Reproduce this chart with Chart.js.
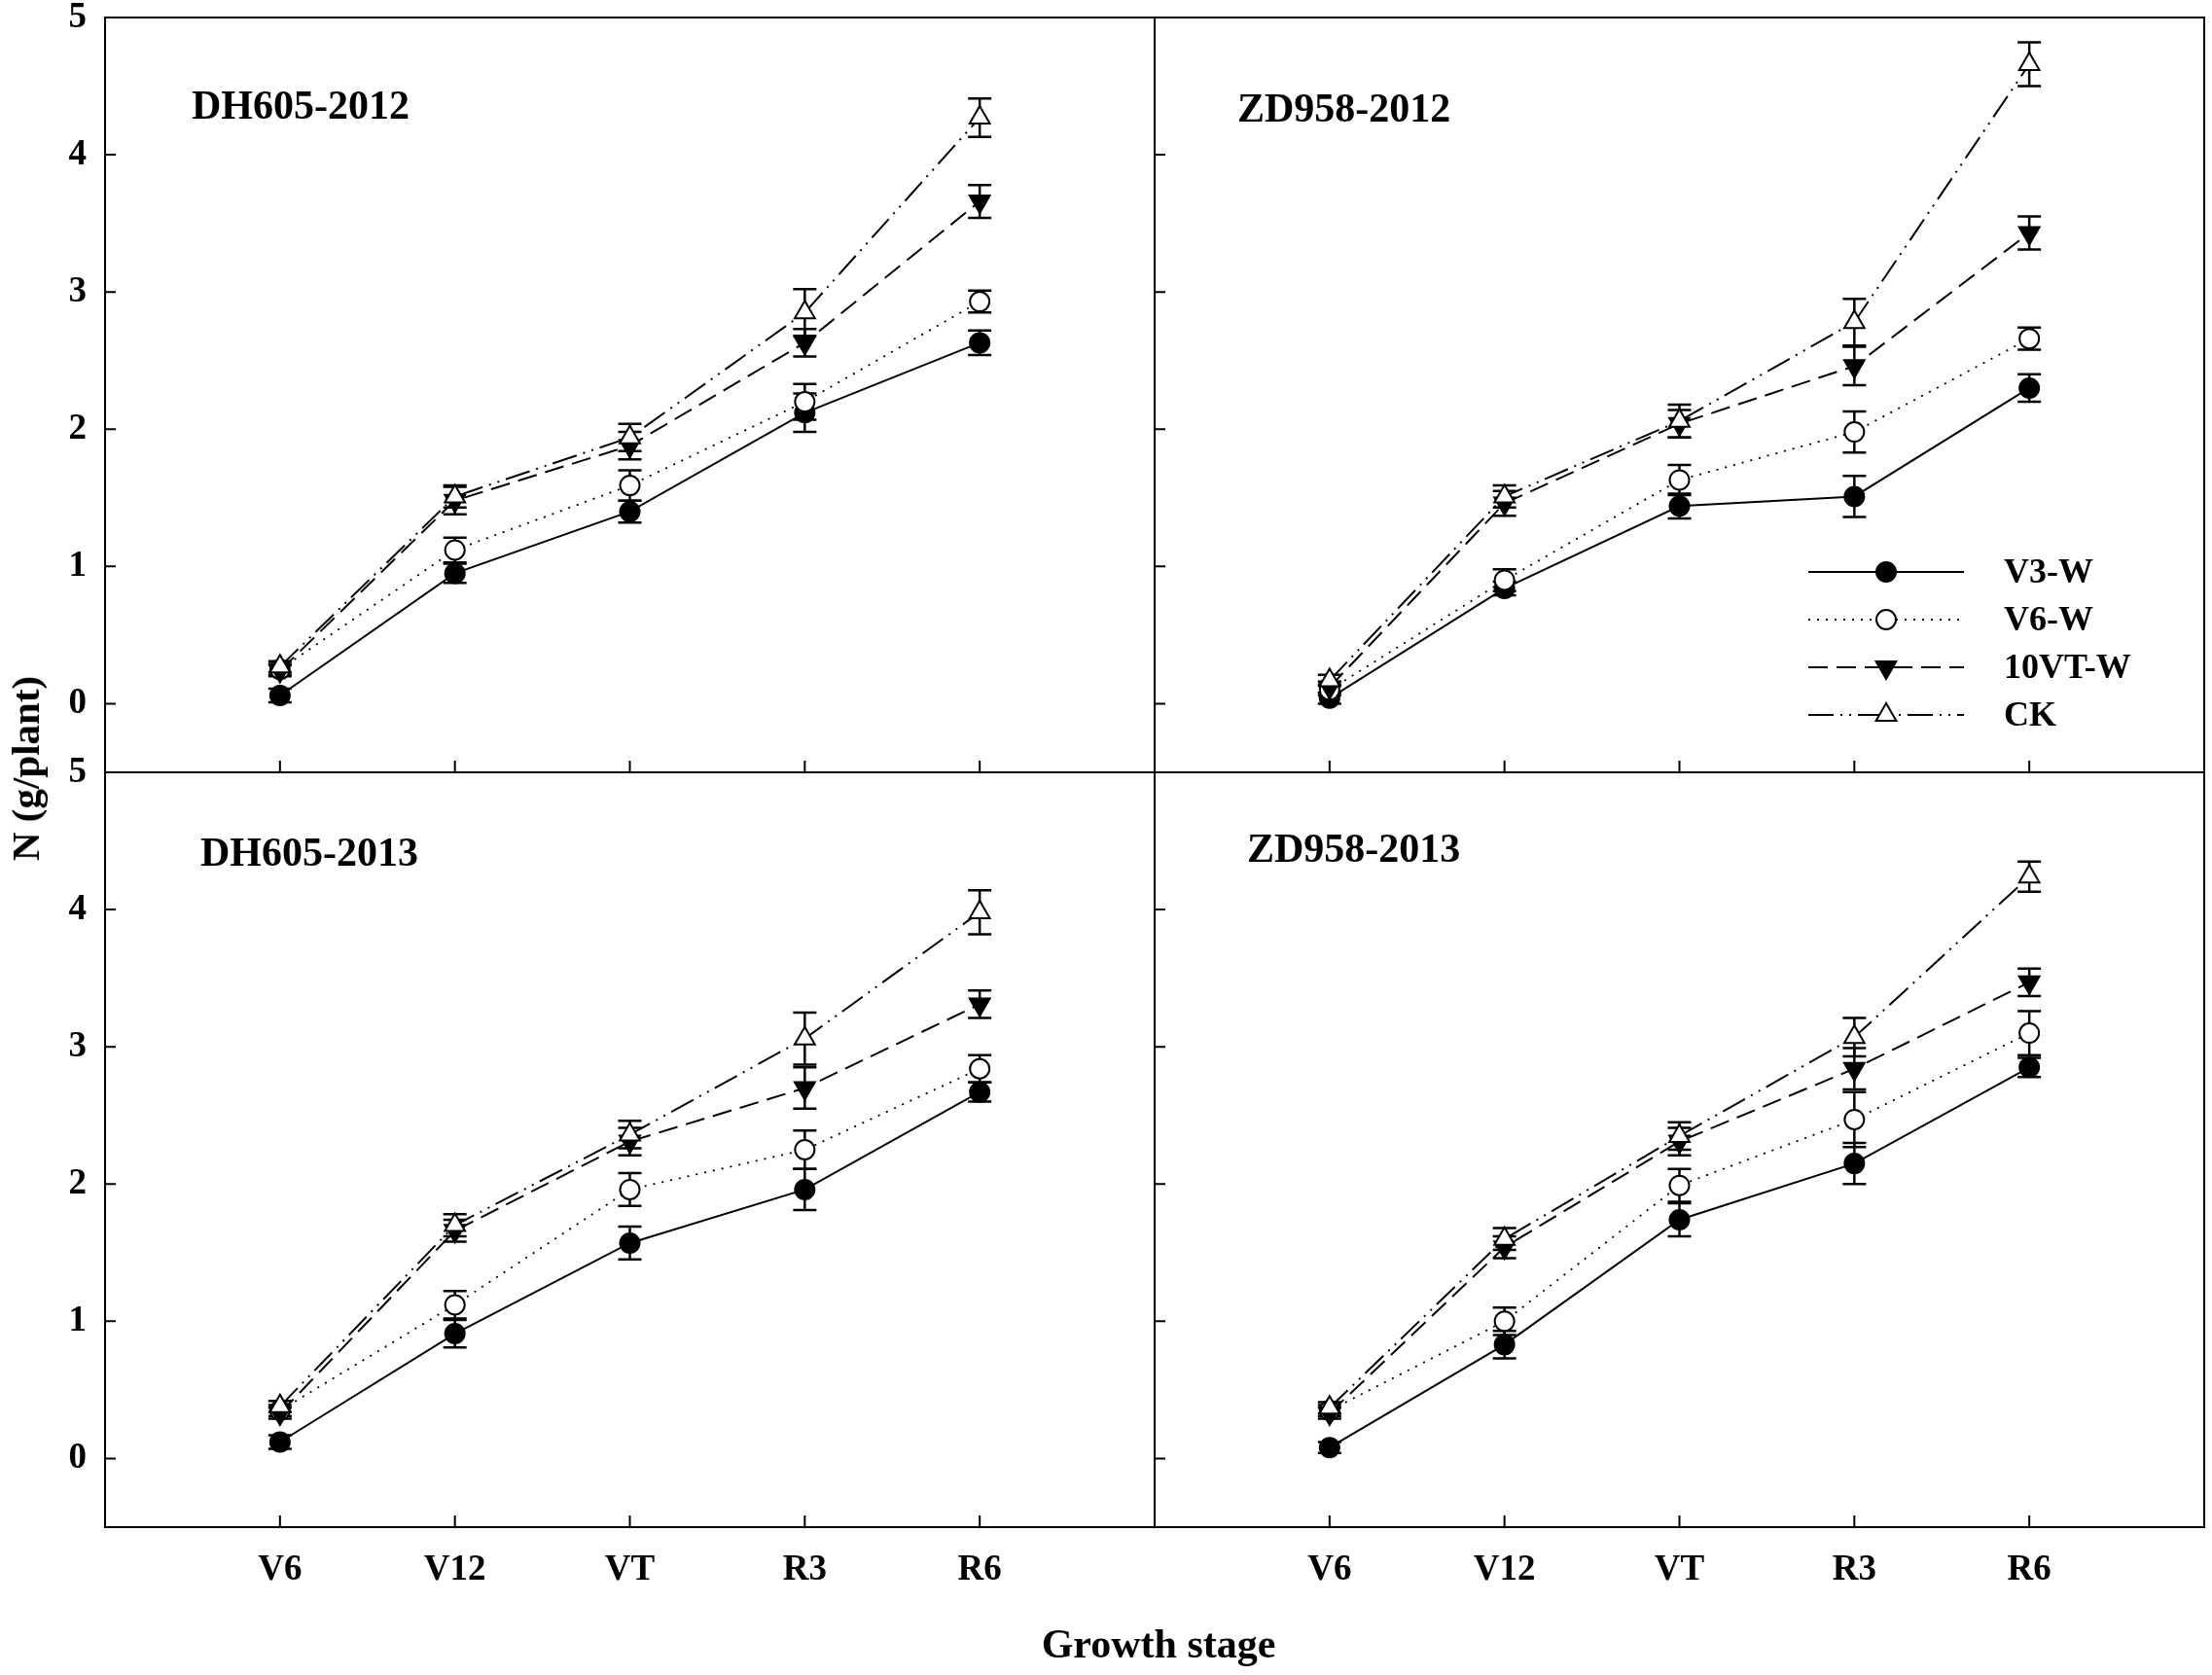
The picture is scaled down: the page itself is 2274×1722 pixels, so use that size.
<!DOCTYPE html>
<html>
<head>
<meta charset="utf-8">
<script src="https://cdn.jsdelivr.net/npm/chart.js@4/dist/chart.umd.min.js"></script>
<style>
  html, body { margin: 0; padding: 0; background: #fff; }
  #wrap { position: relative; width: 2274px; height: 1722px; overflow: hidden; }
  canvas { position: absolute; }
  .lab { position: absolute; color: #000; white-space: nowrap; font-family: 'Liberation Serif', 'Times New Roman', serif; font-weight: bold; }
  #xt { left: 1191px; top: 1690px; font-size: 42px; transform: translate(-50%, -50%); }
  #yt { left: 26px; top: 790px; font-size: 41px; transform: translate(-50%, -50%) rotate(-90deg); }
</style>
</head>
<body>
<div id="wrap">
  <canvas id="c1"></canvas>
  <canvas id="c2"></canvas>
  <canvas id="c3"></canvas>
  <canvas id="c4"></canvas>
  <div class="lab" id="xt">Growth stage</div>
  <div class="lab" id="yt">N (g/plant)</div>
</div>
<script>
// growth stages (x categories) and y tick labels
const stages = ['V6', 'V12', 'VT', 'R3', 'R6'];
const yTicks = [0, 1, 2, 3, 4, 5];
const seriesNames = ['V3-W', 'V6-W', '10VT-W', 'CK'];
const panelTitles = ['DH605-2012', 'ZD958-2012', 'DH605-2013', 'ZD958-2013'];

// DH605-2012
const dh12_v3 = [0.06, 0.95, 1.40, 2.12, 2.63];
const dh12_v3_se = [0.05, 0.07, 0.08, 0.14, 0.09];
const dh12_v6 = [0.25, 1.12, 1.59, 2.20, 2.93];
const dh12_v6_se = [0.04, 0.09, 0.11, 0.13, 0.08];
const dh12_vt = [0.24, 1.48, 1.88, 2.63, 3.66];
const dh12_vt_se = [0.04, 0.10, 0.10, 0.10, 0.12];
const dh12_ck = [0.27, 1.51, 1.94, 2.85, 4.27];
const dh12_ck_se = [0.04, 0.08, 0.10, 0.17, 0.14];

// ZD958-2012
const zd12_v3 = [0.04, 0.84, 1.44, 1.51, 2.30];
const zd12_v3_se = [0.04, 0.05, 0.09, 0.15, 0.10];
const zd12_v6 = [0.10, 0.90, 1.63, 1.98, 2.66];
const zd12_v6_se = [0.04, 0.08, 0.11, 0.15, 0.08];
const zd12_vt = [0.12, 1.46, 2.04, 2.46, 3.43];
const zd12_vt_se = [0.04, 0.09, 0.10, 0.14, 0.12];
const zd12_ck = [0.17, 1.51, 2.06, 2.78, 4.66];
const zd12_ck_se = [0.04, 0.08, 0.12, 0.17, 0.16];

// DH605-2013
const dh13_v3 = [0.12, 0.91, 1.57, 1.96, 2.67];
const dh13_v3_se = [0.05, 0.10, 0.12, 0.15, 0.07];
const dh13_v6 = [0.35, 1.12, 1.96, 2.25, 2.84];
const dh13_v6_se = [0.04, 0.10, 0.12, 0.14, 0.10];
const dh13_vt = [0.33, 1.66, 2.31, 2.70, 3.31];
const dh13_vt_se = [0.04, 0.08, 0.10, 0.15, 0.10];
const dh13_ck = [0.38, 1.70, 2.36, 3.06, 3.98];
const dh13_ck_se = [0.04, 0.08, 0.10, 0.19, 0.16];

// ZD958-2013
const zd13_v3 = [0.08, 0.83, 1.74, 2.15, 2.85];
const zd13_v3_se = [0.04, 0.10, 0.12, 0.15, 0.07];
const zd13_v6 = [0.35, 1.00, 1.99, 2.47, 3.10];
const zd13_v6_se = [0.04, 0.10, 0.12, 0.20, 0.16];
const zd13_vt = [0.33, 1.54, 2.31, 2.84, 3.47];
const zd13_vt_se = [0.04, 0.08, 0.10, 0.15, 0.10];
const zd13_ck = [0.37, 1.60, 2.35, 3.07, 4.24];
const zd13_ck_se = [0.04, 0.08, 0.10, 0.14, 0.11];

const FONT = "'Liberation Serif', 'Times New Roman', serif";

// line / marker look of each treatment
const looks = [
  { dash: [], style: 'circle', rot: 0, r: 10, fill: '#000', lw: 2, order: 4 },
  { dash: [2, 7], style: 'circle', rot: 0, r: 10, fill: '#fff', lw: 1.8, order: 3 },
  { dash: [20, 9], style: 'triangle', rot: 180, r: 12, fill: '#000', lw: 2, order: 2 },
  { dash: [26, 7, 2, 7, 2, 7], style: 'triangle', rot: 0, r: 12, fill: '#fff', lw: 2, order: 1 }
];

function makeSets(means, errs) {
  return means.map((m, k) => ({
    label: seriesNames[k],
    data: m.map((v, i) => ({ x: i, y: v })),
    errors: errs[k],
    borderColor: '#000',
    borderWidth: looks[k].lw,
    borderDash: looks[k].dash,
    pointStyle: looks[k].style,
    pointRotation: looks[k].rot,
    pointRadius: looks[k].r,
    pointBackgroundColor: looks[k].fill,
    pointBorderColor: '#000',
    pointBorderWidth: 2,
    fill: false,
    tension: 0,
    order: looks[k].order
  }));
}

const errorBars = {
  id: 'errorBars',
  beforeDatasetsDraw(chart) {
    const { ctx, scales: { y } } = chart;
    ctx.save();
    ctx.strokeStyle = '#000';
    ctx.lineWidth = 2.5;
    chart.data.datasets.forEach((ds, di) => {
      const meta = chart.getDatasetMeta(di);
      meta.data.forEach((pt, i) => {
        const v = ds.data[i].y, e = ds.errors[i];
        const lo = y.getPixelForValue(v - e), hi = y.getPixelForValue(v + e);
        ctx.beginPath();
        ctx.moveTo(pt.x, lo); ctx.lineTo(pt.x, hi);
        ctx.moveTo(pt.x - 12, lo); ctx.lineTo(pt.x + 12, lo);
        ctx.moveTo(pt.x - 12, hi); ctx.lineTo(pt.x + 12, hi);
        ctx.stroke();
      });
    });
    ctx.restore();
  }
};

// box round the plot and inward ticks
const frame = {
  id: 'frame',
  afterDraw(chart) {
    const { ctx, chartArea: a, scales: { x, y } } = chart;
    ctx.save();
    ctx.strokeStyle = '#000';
    ctx.lineWidth = 2;
    ctx.strokeRect(a.left, a.top, a.right - a.left, a.bottom - a.top);
    ctx.beginPath();
    yTicks.forEach(v => {
      const py = y.getPixelForValue(v);
      ctx.moveTo(a.left, py); ctx.lineTo(a.left + 11, py);
    });
    stages.forEach((s, i) => {
      const px = x.getPixelForValue(i);
      ctx.moveTo(px, a.bottom); ctx.lineTo(px, a.bottom - 12);
    });
    ctx.stroke();
    ctx.restore();
  }
};

const panelTitle = {
  id: 'panelTitle',
  afterDraw(chart, args, opts) {
    const { ctx, chartArea: a } = chart;
    ctx.save();
    ctx.fillStyle = '#000';
    ctx.font = 'bold 42px ' + FONT;
    ctx.textAlign = 'left';
    ctx.textBaseline = 'middle';
    ctx.fillText(opts.text, a.left + opts.dx, a.top + opts.dy);
    ctx.restore();
  }
};

const lineLegend = {
  id: 'lineLegend',
  afterDraw(chart, args, opts) {
    if (!opts.show) return;
    const ctx = chart.ctx;
    chart.data.datasets.forEach((ds, i) => {
      const yy = opts.y + i * opts.gap;
      const mid = (opts.x1 + opts.x2) / 2;
      ctx.save();
      ctx.strokeStyle = '#000';
      ctx.lineWidth = ds.borderWidth;
      ctx.setLineDash(ds.borderDash);
      ctx.beginPath();
      ctx.moveTo(opts.x1, yy); ctx.lineTo(opts.x2, yy);
      ctx.stroke();
      ctx.setLineDash([]);
      ctx.fillStyle = ds.pointBackgroundColor;
      ctx.lineWidth = ds.pointBorderWidth;
      Chart.helpers.drawPoint(ctx, {
        pointStyle: ds.pointStyle, radius: ds.pointRadius,
        rotation: ds.pointRotation, borderWidth: ds.pointBorderWidth
      }, mid, yy);
      ctx.fillStyle = '#000';
      ctx.font = 'bold 36px ' + FONT;
      ctx.textAlign = 'left';
      ctx.textBaseline = 'middle';
      ctx.fillText(ds.label, opts.textX, yy + 2);
      ctx.restore();
    });
  }
};

// where each panel sits on the page (plot box in page pixels)
const panels = [
  { id: 'c1', left: 0, top: 0, w: 1200, h: 800, box: [108, 18, 1187, 794], yLab: true, xLab: false, dx: 89, dy: 93, legend: false,
    means: [dh12_v3, dh12_v6, dh12_vt, dh12_ck], errs: [dh12_v3_se, dh12_v6_se, dh12_vt_se, dh12_ck_se] },
  { id: 'c2', left: 1180, top: 0, w: 1094, h: 800, box: [1187, 18, 2266, 794], yLab: false, xLab: false, dx: 85, dy: 96, legend: true,
    means: [zd12_v3, zd12_v6, zd12_vt, zd12_ck], errs: [zd12_v3_se, zd12_v6_se, zd12_vt_se, zd12_ck_se] },
  { id: 'c3', left: 0, top: 750, w: 1200, h: 972, box: [108, 794, 1187, 1570], yLab: true, xLab: true, dx: 98, dy: 85, legend: false,
    means: [dh13_v3, dh13_v6, dh13_vt, dh13_ck], errs: [dh13_v3_se, dh13_v6_se, dh13_vt_se, dh13_ck_se] },
  { id: 'c4', left: 1180, top: 750, w: 1094, h: 972, box: [1187, 794, 2266, 1570], yLab: false, xLab: true, dx: 95, dy: 81, legend: false,
    means: [zd13_v3, zd13_v6, zd13_vt, zd13_ck], errs: [zd13_v3_se, zd13_v6_se, zd13_vt_se, zd13_ck_se] }
];

panels.forEach((p, n) => {
  const cv = document.getElementById(p.id);
  cv.width = p.w; cv.height = p.h;
  cv.style.left = p.left + 'px'; cv.style.top = p.top + 'px';
  cv.style.width = p.w + 'px'; cv.style.height = p.h + 'px';
  const [bl, bt, br, bb] = p.box;
  const yW = p.yLab ? bl - p.left : 0;
  const xH = p.xLab ? 100 : 0;
  const pad = {
    left: p.yLab ? 0 : bl - p.left,
    top: bt - p.top,
    right: p.left + p.w - br,
    bottom: p.top + p.h - bb - xH
  };

  new Chart(cv, {
    type: 'line',
    data: { datasets: makeSets(p.means, p.errs) },
    options: {
      responsive: false,
      animation: false,
      devicePixelRatio: 1,
      layout: { padding: pad, autoPadding: false },
      scales: {
        x: {
          type: 'linear',
          min: -1,
          max: 5,
          display: p.xLab,
          grid: { display: false, drawTicks: false },
          border: { display: false },
          afterBuildTicks: s => { s.ticks = stages.map((_, i) => ({ value: i })); },
          afterFit: s => { s.height = xH; s.paddingLeft = 0; s.paddingRight = 0; },
          ticks: {
            padding: 22,
            color: '#000',
            maxRotation: 0,
            autoSkip: false,
            font: { family: FONT, size: 37, weight: 'bold' },
            callback: v => stages[v]
          }
        },
        y: {
          min: -0.5,
          max: 5,
          display: p.yLab,
          grid: { display: false, drawTicks: false },
          border: { display: false },
          afterBuildTicks: s => { s.ticks = yTicks.map(v => ({ value: v })); },
          afterFit: s => { s.width = yW; s.paddingTop = 0; s.paddingBottom = 0; },
          ticks: {
            padding: 19,
            color: '#000',
            font: { family: FONT, size: 37, weight: 'bold' }
          }
        }
      },
      plugins: {
        legend: { display: false },
        tooltip: { enabled: false },
        panelTitle: { text: panelTitles[n], dx: p.dx, dy: p.dy },
        lineLegend: { show: p.legend, x1: 1859 - p.left, x2: 2019 - p.left, textX: 2060 - p.left, y: 588, gap: 49 }
      }
    },
    plugins: [errorBars, frame, panelTitle, lineLegend]
  });
});
</script>
</body>
</html>
